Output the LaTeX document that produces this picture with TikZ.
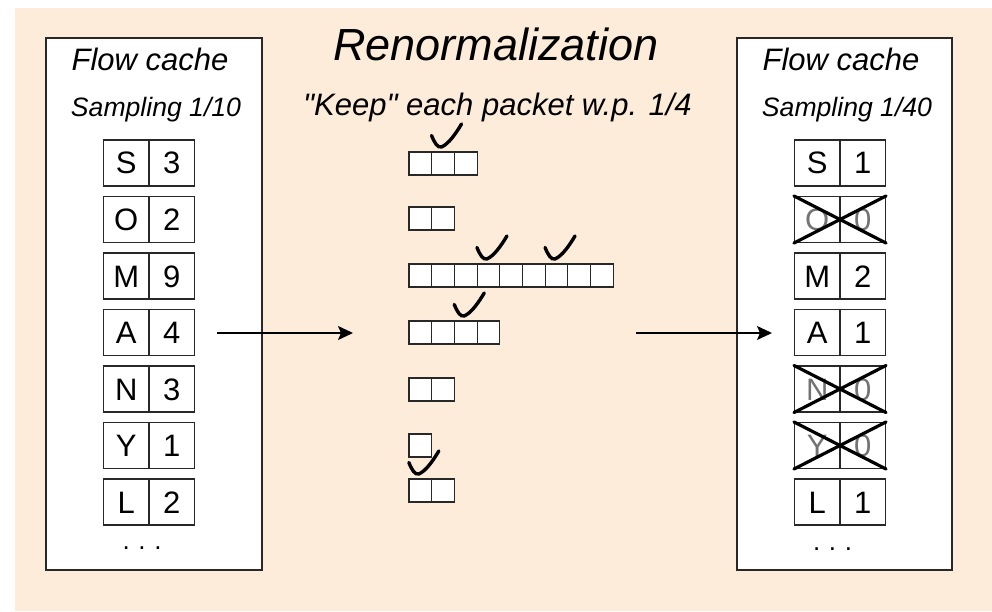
\documentclass[tikz,border=0pt]{standalone}
\usepackage{fontspec}
\setmainfont{Liberation Sans}[Ligatures=TeXOff]
\usetikzlibrary{arrows.meta,calc}
\definecolor{beige}{RGB}{253,236,217}
\definecolor{frame}{RGB}{40,40,40}
\tikzset{
  half/.style={draw=frame, fill=white, line width=1.1pt, minimum width=45.5pt, minimum height=46pt,
    inner sep=0pt, font=\fontsize{31}{31}\selectfont, text height=22pt, text depth=0pt},
  ghost/.style={half, text=black!55},
  pkt/.style={draw=frame, fill=white, line width=1.1pt, minimum width=22.7pt, minimum height=23pt, inner sep=0pt},
  cachebox/.style={draw=frame, fill=white, line width=1.3pt},
  arr/.style={line width=1.3pt, -{Stealth[length=15pt,width=14pt,inset=3pt]}},
  cross/.style={line width=3.2pt, line cap=round},
  chk/.pic={\draw[line width=3.4pt, line cap=round] (-10,-11.5) .. controls (-7,-4) and (-4,1) .. (0,0) .. controls (7,-3) and (14,-13) .. (20,-23);},
  ttl/.style={font=\fontsize{45}{50}\selectfont\itshape, anchor=base, inner sep=0pt},
  hdr/.style={font=\fontsize{31}{34}\selectfont\itshape, anchor=base, inner sep=0pt},
  sub/.style={font=\fontsize{26.6}{30}\selectfont\itshape, anchor=base, inner sep=0pt},
  keepst/.style={font=\fontsize{31}{34}\selectfont\itshape, anchor=base, inner sep=0pt},
  dotsst/.style={font=\fontsize{26}{30}\selectfont, anchor=base, inner sep=0pt}
}
\begin{document}
\begin{tikzpicture}[x=1pt,y=-1pt]
\useasboundingbox (0,0) rectangle (992,612);
\fill[white] (0,0) rectangle (992,612);
\fill[beige] (15,8) rectangle (992,611);

% cache boxes
\draw[cachebox] (46,38) rectangle (262,570);
\draw[cachebox] (737,38) rectangle (952,570);

% texts
\node[ttl] (title) at (496,61) {Renormalization};
\node[hdr] (fcL) at (150,71) {Flow cache};
\node[sub] (spL) at (156,117) {Sampling 1/10};
\node[hdr] (fcR) at (841,71) {Flow cache};
\node[sub] (spR) at (847,117) {Sampling 1/40};
\node[keepst] (keep) at (497.5,116) {"Keep" each packet w.p. 1/4};

% left cache entries
\foreach \a/\b [count=\i] in {S/3,O/2,M/9,A/4,N/3,Y/1,L/2}{
  \node[half] (La\i) at (126.25,{163+56.5*(\i-1)}) {\a};
  \node[half] (Lb\i) at (171.75,{163+56.5*(\i-1)}) {\b};
}
\node[dotsst] (dotsL) at (142,549) {.\,\,.\,\,.};

% right cache entries
\foreach \a/\b/\st [count=\i] in {S/1/half,O/0/ghost,M/2/half,A/1/half,N/0/ghost,Y/0/ghost,L/1/half}{
  \node[\st] (Ra\i) at (817.25,{163+56.5*(\i-1)}) {\a};
  \node[\st] (Rb\i) at (862.75,{163+56.5*(\i-1)}) {\b};
}
\foreach \i in {2,5,6}{
  \draw[cross] (Ra\i.north west) -- (Rb\i.south east);
  \draw[cross] (Ra\i.south west) -- (Rb\i.north east);
}
\node[dotsst] (dotsR) at (832.5,550) {.\,\,.\,\,.};

% packets
\foreach \yc/\n [count=\r] in {163.5/3,218.5/2,275.5/9,332.5/4,389.5/2,445.5/1,490.5/2}{
  \foreach \c in {1,...,\n}{
    \node[pkt] (p\r-\c) at ({409+22.7*(\c-0.5)},\yc) {};
  }
}

% checkmarks
\pic at ($(p1-2.north)+(-1.5,-4.5)$) {chk};
\pic at ($(p3-4.north)+(-1.5,-4.5)$) {chk};
\pic at ($(p3-7.north)+(-1.5,-4.5)$) {chk};
\pic at ($(p4-3.north)+(-1.5,-4.5)$) {chk};
\pic at ($(p7-1.north)+(-1.5,-4.5)$) {chk};

% arrows
\coordinate (a1s) at (217,333);
\coordinate (a1e) at (353,333);
\coordinate (a2s) at (636,333);
\coordinate (a2e) at (772,333);
\draw[arr] (a1s) -- (a1e);
\draw[arr] (a2s) -- (a2e);
\end{tikzpicture}
\end{document}
